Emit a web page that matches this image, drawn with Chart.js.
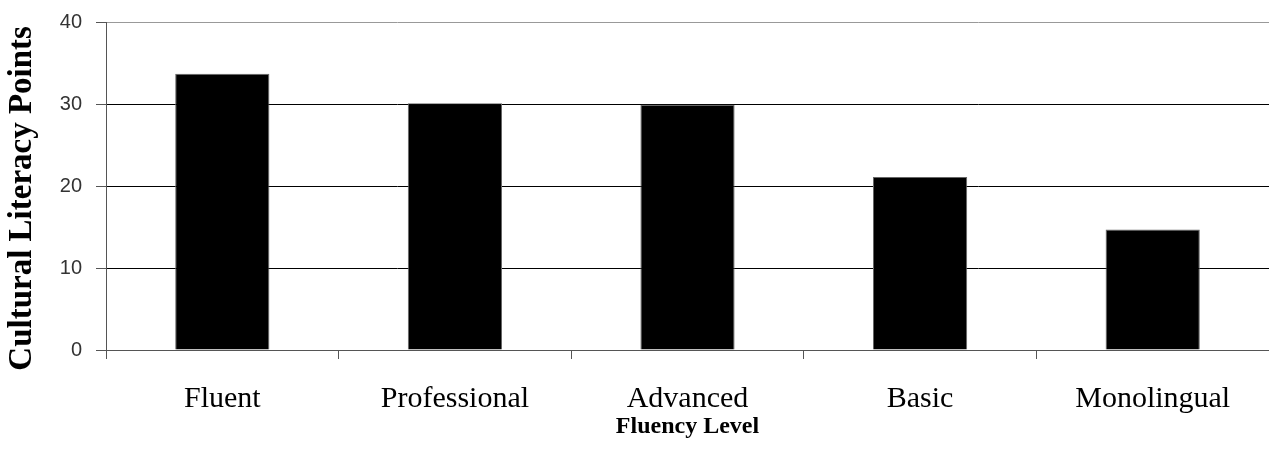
<!DOCTYPE html>
<html>
<head>
<meta charset="utf-8">
<script src="https://cdn.jsdelivr.net/npm/chart.js@4"></script>
<style>
  body { margin: 0; background: #fff; }
</style>
</head>
<body>
<canvas id="barChart" width="1269" height="468"></canvas>
<script>
const CHART = document.getElementById('barChart')

const levels = ["Fluent", "Professional", "Advanced", "Basic", "Monolingual"]
const points = [33.7, 30.1, 29.9, 21.1, 14.7]
const yTicks = [0, 10, 20, 30, 40]

const SERIF = "'Liberation Serif', 'Times New Roman', serif"
const SANS = "'Liberation Sans', Arial, sans-serif"

let barChart = new Chart(CHART, {
    type: 'bar',
    data: {
        labels: levels,
        datasets: [{
            label: 'Cultural Literacy Points',
            data: points,
            backgroundColor: '#000',
            borderColor: '#666',
            borderWidth: 1,
            categoryPercentage: 1,
            barPercentage: 0.405
        }]
    },
    options: {
        responsive: false,
        animation: false,
        layout: { padding: { top: 22, right: 0, left: 0, bottom: 0 } },
        plugins: {
            legend: { display: false },
            tooltip: { enabled: false }
        },
        scales: {
            x: {
                offset: true,
                grid: {
                    offset: true,
                    drawOnChartArea: false,
                    drawTicks: true,
                    tickLength: 9,
                    tickColor: '#555'
                },
                border: { color: '#555', width: 1 },
                ticks: {
                    color: '#000',
                    padding: 22,
                    font: { family: SERIF, size: 30 }
                },
                title: {
                    display: true,
                    text: 'Fluency Level',
                    color: '#000',
                    font: { family: SERIF, size: 24, weight: 'bold' },
                    padding: { top: 4, bottom: 27 }
                },
                afterFit: (scale) => { scale.height = 118 }
            },
            y: {
                min: 0,
                max: 40,
                afterBuildTicks: (scale) => { scale.ticks = yTicks.map(v => ({ value: v })) },
                grid: {
                    color: (ctx) => ctx.tick && ctx.tick.value === 40 ? '#999' : '#000',
                    tickColor: '#555',
                    tickLength: 10,
                    lineWidth: 1
                },
                border: { color: '#555', width: 1 },
                ticks: {
                    color: '#333',
                    padding: 14,
                    font: { family: SANS, size: 20, lineHeight: 0.8 }
                },
                title: {
                    display: true,
                    // trailing spaces nudge the rotated title down a bit
                    text: 'Cultural Literacy Points   ',
                    color: '#000',
                    font: { family: SERIF, size: 33, weight: 'bold' },
                    padding: { top: 3, bottom: 0 }
                },
                afterFit: (scale) => { scale.width = 106 }
            }
        }
    }
})
</script>
</body>
</html>
